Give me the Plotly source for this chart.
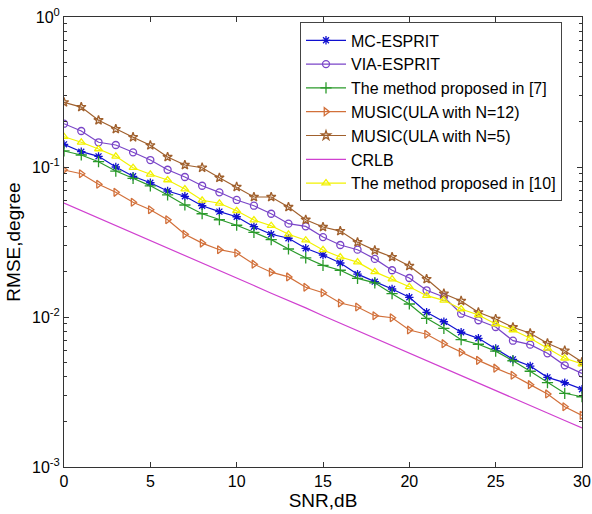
import plotly.graph_objects as go

snr_db = list(range(0, 31))

mc_esprit = [0.1416, 0.1265, 0.1178, 0.1000, 0.0867, 0.0785, 0.0692, 0.0638, 0.0552, 0.0504,
             0.0466, 0.0400, 0.0356, 0.0335, 0.0287, 0.0259, 0.0229, 0.0193, 0.0172, 0.01537,
             0.01353, 0.01075, 0.00930, 0.00791, 0.00721, 0.00617, 0.00522, 0.00471, 0.00396,
             0.00365, 0.00330]

via_esprit = [0.1944, 0.1738, 0.1461, 0.1402, 0.1253, 0.1113, 0.0959, 0.0858, 0.0750, 0.0678,
              0.0603, 0.0552, 0.0488, 0.0419, 0.0402, 0.0341, 0.0302, 0.0281, 0.0244, 0.0205,
              0.0182, 0.01507, 0.01359, 0.01052, 0.00951, 0.00858, 0.00695, 0.00654, 0.00573,
              0.00476, 0.00421]

method_7 = [0.1279, 0.1202, 0.1085, 0.0940, 0.0841, 0.0749, 0.0651, 0.0558, 0.0488, 0.0445,
            0.0409, 0.0367, 0.0328, 0.0284, 0.0248, 0.0221, 0.0205, 0.0181, 0.0169, 0.0143,
            0.01221, 0.00980, 0.00841, 0.00706, 0.00658, 0.00592, 0.00511, 0.00435, 0.00365,
            0.00310, 0.00294]

music_n12 = [0.0955, 0.0902, 0.0767, 0.0678, 0.0582, 0.0519, 0.0445, 0.0356, 0.0311, 0.0281,
             0.0267, 0.0225, 0.0199, 0.0185, 0.0158, 0.0145, 0.01240, 0.01166, 0.01020, 0.00989,
             0.00819, 0.00767, 0.00664, 0.00582, 0.00514, 0.00456, 0.00409, 0.00354, 0.00307,
             0.00252, 0.00221]

music_n5 = [0.270, 0.251, 0.205, 0.179, 0.158, 0.1395, 0.1166, 0.1031, 0.0989, 0.0848,
            0.0736, 0.0631, 0.0631, 0.0541, 0.0445, 0.0398, 0.0374, 0.0315, 0.0278, 0.0251,
            0.0219, 0.0179, 0.0143, 0.0128, 0.01075, 0.0097, 0.00854, 0.00779, 0.00668,
            0.00596, 0.00501]

crlb = [0.0575, 0.0513, 0.0457, 0.0407, 0.0363, 0.0323, 0.0288, 0.0257, 0.0229, 0.0204,
        0.0182, 0.0162, 0.0144, 0.0129, 0.0115, 0.0102, 0.0091, 0.0081, 0.00724, 0.00645,
        0.00575, 0.00513, 0.00457, 0.00407, 0.00363, 0.00323, 0.00288, 0.00257, 0.00229,
        0.00204, 0.00182]

method_10 = [0.1592, 0.1461, 0.1318, 0.1178, 0.0989, 0.0894, 0.0819, 0.0713, 0.0600, 0.0573,
             0.0511, 0.0443, 0.0406, 0.0356, 0.0325, 0.0280, 0.0251, 0.0232, 0.0200, 0.0179,
             0.0159, 0.01387, 0.01292, 0.01131, 0.01031, 0.00898, 0.00819, 0.00721, 0.00618,
             0.00531, 0.00486]

series = [
    ("MC-ESPRIT", mc_esprit, "#1010d0", "asterisk-open", 7),
    ("VIA-ESPRIT", via_esprit, "#7a45c8", "circle-open", 7),
    ("The method proposed in [7]", method_7, "#2a9a2a", "cross-thin-open", 8),
    ("MUSIC(ULA with N=12)", music_n12, "#d2703a", "triangle-right-open", 7),
    ("MUSIC(ULA with N=5)", music_n5, "#a0602d", "star-open", 7),
    ("CRLB", crlb, "#d040d0", None, 0),
    ("The method proposed in [10]", method_10, "#f2f200", "triangle-up-open", 7),
]

fig = go.Figure()
for name, vals, color, symbol, size in series:
    if symbol is None:
        fig.add_trace(go.Scatter(x=snr_db, y=vals, name=name, mode="lines",
                                 line=dict(color=color, width=1.2)))
    else:
        fig.add_trace(go.Scatter(x=snr_db, y=vals, name=name, mode="lines+markers",
                                 line=dict(color=color, width=1.2),
                                 marker=dict(symbol=symbol, size=size,
                                             line=dict(color=color, width=1.3))))

minor_vals = [m * 10.0 ** e for e in (-3, -2, -1) for m in range(2, 10)]
major_vals = [1e-3, 1e-2, 1e-1, 1e0]
axis_col = "#333333"

fig.update_layout(
    width=592, height=514,
    margin=dict(l=64, r=10, t=17, b=47),
    paper_bgcolor="white", plot_bgcolor="white",
    font=dict(family="Liberation Sans, Arial, sans-serif", size=16, color="black"),
    showlegend=True,
    legend=dict(x=0.4556, y=0.988, xanchor="left", yanchor="top",
                bgcolor="white", bordercolor="#444444", borderwidth=1,
                font=dict(size=16), itemwidth=40),
    xaxis=dict(range=[0, 30], tickvals=[0, 5, 10, 15, 20, 25, 30],
               ticks="inside", ticklen=5, tickcolor=axis_col,
               showline=True, linecolor=axis_col, linewidth=1, mirror="ticks",
               showgrid=False, zeroline=False, automargin=False,
               title=dict(text="SNR,dB", standoff=4)),
    yaxis=dict(type="log", range=[-3, 0],
               tickvals=major_vals,
               ticktext=["10<sup>-3</sup>", "10<sup>-2</sup>", "10<sup>-1</sup>", "10<sup>0</sup>"],
               ticks="inside", ticklen=5, tickcolor=axis_col,
               minor=dict(tickvals=minor_vals, ticks="inside", ticklen=3, tickcolor=axis_col,
                          showgrid=False),
               showline=True, linecolor=axis_col, linewidth=1, mirror="ticks",
               showgrid=False, zeroline=False, automargin=False,
               title=dict(text="RMSE,degree", standoff=6)),
    # right-hand copy of the log axis so its minor ticks show on that side too
    yaxis2=dict(type="log", range=[-3, 0], overlaying="y", side="right",
                tickvals=major_vals, showticklabels=False,
                ticks="inside", ticklen=5, tickcolor=axis_col,
                minor=dict(tickvals=minor_vals, ticks="inside", ticklen=3, tickcolor=axis_col,
                           showgrid=False),
                showline=False, showgrid=False, zeroline=False, automargin=False),
)

fig.write_html("out.html")
